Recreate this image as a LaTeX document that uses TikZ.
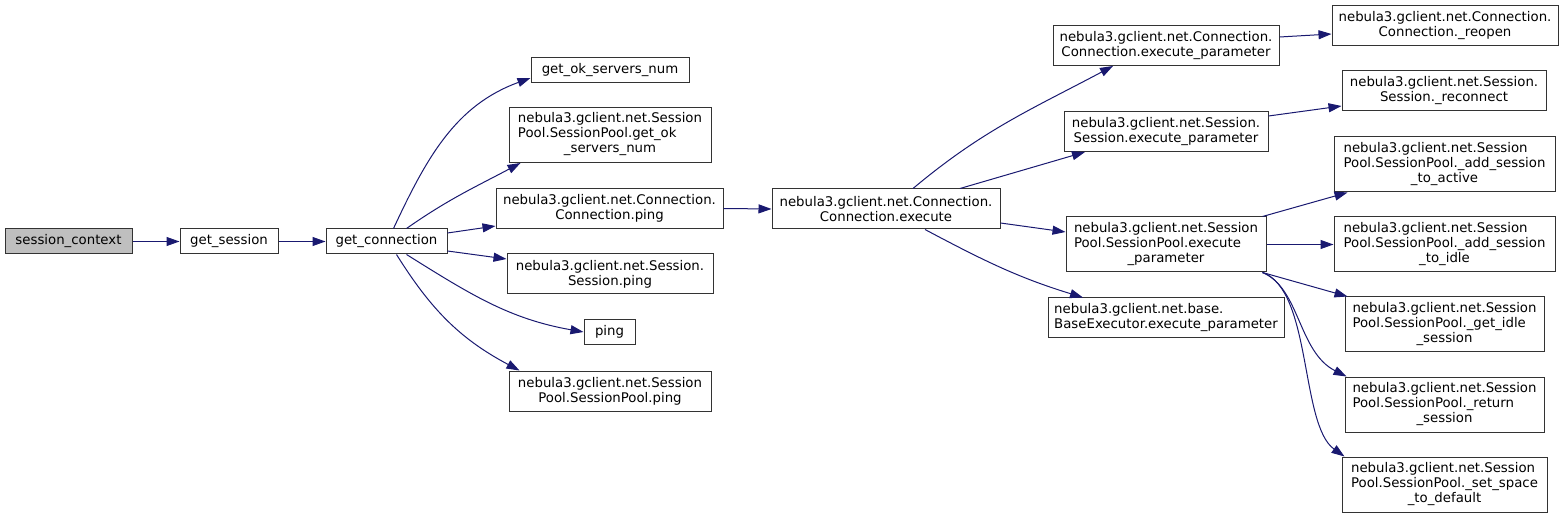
\documentclass[tikz,border=0pt]{standalone}
\usepackage{fontspec}
\setmainfont{DejaVu Sans}
\usetikzlibrary{arrows.meta}
\definecolor{edgeblue}{HTML}{191970}
\definecolor{rootgray}{HTML}{BFBFBF}
\newcommand{\fnlines}[3]{\begin{tabular}{@{}l@{}}#1\\#2\\\multicolumn{1}{@{}c@{}}{#3}\end{tabular}}
\tikzset{
    fn/.style={draw=black!80, fill=white, line width=1pt, font=\fontsize{13.3}{15}\selectfont,
        inner xsep=4pt, inner ysep=0pt, minimum height=25pt},
    fntwo/.style={fn, minimum height=40pt, align=center},
    fnthree/.style={fn, minimum height=55pt},
    root/.style={fn, fill=rootgray},
    call/.style={draw=edgeblue, line width=1pt, -{Triangle[length=13pt,width=9pt]}}
}
\begin{document}
\begin{tikzpicture}[x=1pt, y=-1pt]
        \useasboundingbox (0,0) rectangle (1568,518);

        \node[root, minimum width=127pt] (session_context) at (68.5,241.5) {session\_context};
        \node[fn, minimum width=98pt] (get_session) at (229,241.5) {get\_session};
        \node[fn, minimum width=121pt] (get_connection) at (386.5,241.5) {get\_connection};

        \node[fn, minimum width=158pt] (get_ok) at (610,70) {get\_ok\_servers\_num};
        \node[fnthree, minimum width=202pt] (sp_get_ok) at (610,135) {\fnlines{nebula3.gclient.net.Session}{Pool.SessionPool.get\_ok}{\_servers\_num}};
        \node[fntwo, minimum width=227pt] (conn_ping) at (609.5,208.5) {nebula3.gclient.net.Connection.\\Connection.ping};
        \node[fntwo, minimum width=206pt] (sess_ping) at (610,274) {nebula3.gclient.net.Session.\\Session.ping};
        \node[fn, minimum width=51pt] (ping) at (609.5,332) {ping};
        \node[fntwo, minimum width=202pt] (sp_ping) at (610,391) {nebula3.gclient.net.Session\\Pool.SessionPool.ping};

        \node[fntwo, minimum width=228pt] (conn_exec) at (886,209) {nebula3.gclient.net.Connection.\\Connection.execute};

        \node[fntwo, minimum width=226pt] (conn_exec_param) at (1166,45.5) {nebula3.gclient.net.Connection.\\Connection.execute\_parameter};
        \node[fntwo, minimum width=204pt] (sess_exec_param) at (1166,131.5) {nebula3.gclient.net.Session.\\Session.execute\_parameter};
        \node[fnthree, minimum width=200pt] (sp_exec_param) at (1166,244.5) {\fnlines{nebula3.gclient.net.Session}{Pool.SessionPool.execute}{\_parameter}};
        \node[fntwo, align=left, minimum width=236pt] (base_exec_param) at (1166,318) {nebula3.gclient.net.base.\\BaseExecutor.execute\_parameter};

        \node[fntwo, minimum width=226pt] (reopen) at (1445,26) {nebula3.gclient.net.Connection.\\Connection.\_reopen};
        \node[fntwo, minimum width=204pt] (reconnect) at (1444,91) {nebula3.gclient.net.Session.\\Session.\_reconnect};
        \node[fnthree, minimum width=221pt] (add_active) at (1444.5,164.5) {\fnlines{nebula3.gclient.net.Session}{Pool.SessionPool.\_add\_session}{\_to\_active}};
        \node[fnthree, minimum width=221pt] (add_idle) at (1444.5,244.5) {\fnlines{nebula3.gclient.net.Session}{Pool.SessionPool.\_add\_session}{\_to\_idle}};
        \node[fnthree, minimum width=199pt] (get_idle) at (1444.5,324.5) {\fnlines{nebula3.gclient.net.Session}{Pool.SessionPool.\_get\_idle}{\_session}};
        \node[fnthree, minimum width=199pt] (return) at (1444.5,404.5) {\fnlines{nebula3.gclient.net.Session}{Pool.SessionPool.\_return}{\_session}};
        \node[fnthree, minimum width=205pt] (set_space) at (1444.5,484.5) {\fnlines{nebula3.gclient.net.Session}{Pool.SessionPool.\_set\_space}{\_to\_default}};

        \draw[call] (session_context) -- (get_session);
        \draw[call] (get_session) -- (get_connection);

        \draw[call] ([xshift=7pt]get_connection.north) to[out=65, in=200] ([yshift=-8pt]get_ok.west);
        \draw[call] ([xshift=20pt]get_connection.north) to[out=35, in=208] ([xshift=12pt]sp_get_ok.south west);
        \draw[call] ([yshift=8.5pt]get_connection.east) -- ([yshift=-17.5pt]conn_ping.west);
        \draw[call] ([yshift=-9.5pt]get_connection.east) -- ([yshift=15pt]sess_ping.west);
        \draw[call] ([xshift=20pt]get_connection.south) to[out=-32, in=170] (ping.west);
        \draw[call] ([xshift=10pt]get_connection.south) to[out=-58, in=152] ([xshift=11pt]sp_ping.north west);

        \draw[call] (conn_ping.east) -- (conn_exec.west);

        \draw[call] ([xshift=27pt]conn_exec.north) to[out=40, in=208] ([xshift=-53pt]conn_exec_param.south);
        \draw[call] ([xshift=74pt]conn_exec.north) -- ([xshift=-81pt]sess_exec_param.south);
        \draw[call] ([yshift=-14pt]conn_exec.east) -- ([yshift=12.5pt]sp_exec_param.west);
        \draw[call] ([xshift=39pt]conn_exec.south) to[out=-28, in=163] ([xshift=-83pt]base_exec_param.north);

        \draw[call] ([yshift=8.5pt]conn_exec_param.east) -- ([yshift=-8pt]reopen.west);
        \draw[call] ([yshift=15.5pt]sess_exec_param.east) -- ([yshift=-15pt]reconnect.west);

        \draw[call] ([xshift=-4pt]sp_exec_param.north east) -- ([xshift=14pt]add_active.south west);
        \draw[call] (sp_exec_param.east) -- (add_idle.west);
        \draw[call] ([xshift=-4pt]sp_exec_param.south east) -- ([xshift=3pt]get_idle.north west);
        \draw[call] ([xshift=-4pt]sp_exec_param.south east) .. controls (1300,288) and (1298,352) .. ([xshift=2pt]return.north west);
        \draw[call] ([xshift=-4pt]sp_exec_param.south east) .. controls (1312,290) and (1300,425) .. ([xshift=3pt]set_space.north west);
    \end{tikzpicture}
\end{document}
